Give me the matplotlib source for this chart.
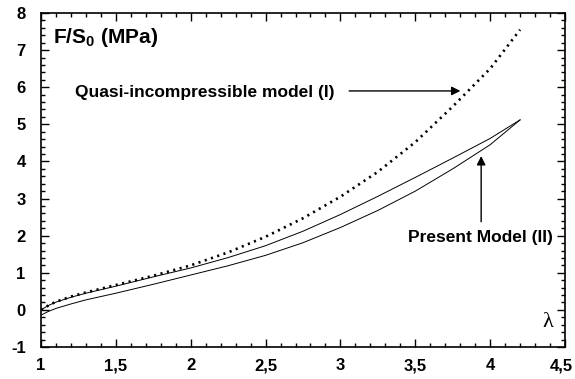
import matplotlib
matplotlib.use("Agg")
import matplotlib.pyplot as plt
import matplotlib.transforms as mtransforms
from matplotlib.ticker import MultipleLocator

plt.rcParams["font.family"] = ["Liberation Sans", "DejaVu Sans"]
plt.rcParams["axes.unicode_minus"] = False

# quasi-incompressible model (I), dotted
lam_qi = [1.0, 1.05, 1.1, 1.2, 1.3, 1.4, 1.5, 1.75, 2.0, 2.25, 2.5, 2.75,
          3.0, 3.25, 3.5, 3.75, 4.0, 4.2]
f_qi = [0.0, 0.12, 0.22, 0.36, 0.47, 0.57, 0.67, 0.92, 1.2, 1.55, 1.97, 2.47,
        3.05, 3.72, 4.52, 5.48, 6.5, 7.55]

# present model (II), upper branch
lam_up = [1.0, 1.05, 1.1, 1.2, 1.3, 1.5, 1.75, 2.0, 2.25, 2.5, 2.75, 3.0,
          3.25, 3.5, 3.75, 4.0, 4.2]
f_up = [0.0, 0.12, 0.21, 0.34, 0.45, 0.64, 0.89, 1.13, 1.41, 1.73, 2.12, 2.57,
        3.06, 3.57, 4.09, 4.62, 5.12]

# present model (II), lower branch
lam_lo = [1.0, 1.05, 1.1, 1.2, 1.3, 1.5, 1.75, 2.0, 2.25, 2.5, 2.75, 3.0,
          3.25, 3.5, 3.75, 4.0, 4.2]
f_lo = [-0.14, -0.04, 0.04, 0.16, 0.27, 0.45, 0.69, 0.94, 1.19, 1.47, 1.81,
        2.22, 2.68, 3.2, 3.8, 4.45, 5.12]

xticks = [1, 1.5, 2, 2.5, 3, 3.5, 4, 4.5]
xlabels = ["1", "1,5", "2", "2,5", "3", "3,5", "4", "4,5"]
yticks = [-1, 0, 1, 2, 3, 4, 5, 6, 7, 8]

fig = plt.figure(figsize=(5.75, 3.79), dpi=100)
ax = fig.add_axes([0.0713, 0.0844, 0.9113, 0.8813])

ax.plot(lam_qi, f_qi, color="black", lw=1.9, linestyle=(0, (0.8, 1.7)))
ax.plot(lam_up, f_up, color="black", lw=0.7)
ax.plot(lam_lo, f_lo, color="black", lw=0.7)

ax.set_xlim(1, 4.5)
ax.set_ylim(-1, 8)
ax.set_xticks(xticks)
ax.set_xticklabels(xlabels)
ax.set_yticks(yticks)
ax.xaxis.set_minor_locator(MultipleLocator(0.1))
ax.yaxis.set_minor_locator(MultipleLocator(0.2))
ax.tick_params(which="both", direction="in", top=True, right=True,
               labelsize=12, width=1.0)
ax.tick_params(axis="x", pad=8)
ax.tick_params(axis="y", pad=11)
ax.tick_params(which="major", length=6)
ax.tick_params(which="minor", length=3)
for lbl in ax.get_xticklabels() + ax.get_yticklabels():
    lbl.set_fontweight("bold")
# last x label sits at the figure edge, nudge it in a little
last = ax.get_xticklabels()[-1]
last.set_transform(last.get_transform() +
                   mtransforms.ScaledTranslation(-4 / 100, 0, fig.dpi_scale_trans))
for sp in ax.spines.values():
    sp.set_linewidth(1.2)

ax.text(1.08, 7.33, r"F/S$_\mathregular{0}$ (MPa)", fontsize=15,
        fontweight="bold", va="center", ha="left")
ax.text(1.227, 5.85, "Quasi-incompressible model (I)", fontsize=12.5,
        fontweight="bold", va="center", ha="left")
ax.annotate("", xy=(3.82, 5.9), xytext=(3.04, 5.9),
            arrowprops=dict(arrowstyle="-|>", color="black", lw=1.0,
                            mutation_scale=13))
ax.text(4.42, 1.94, "Present Model (II)", fontsize=12.5, fontweight="bold",
        va="center", ha="right")
ax.annotate("", xy=(3.94, 4.22), xytext=(3.94, 2.3),
            arrowprops=dict(arrowstyle="-|>", color="black", lw=1.0,
                            mutation_scale=13))
ax.text(4.387, -0.35, "λ", fontsize=16, family="Liberation Serif",
        va="center", ha="center")

fig.savefig("out.png", dpi=100)
